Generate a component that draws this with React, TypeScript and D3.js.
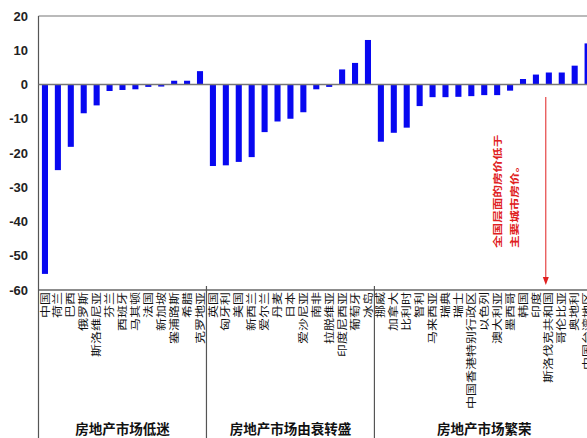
import React from "react";
import * as d3 from "d3";

const groupLow = ["中国", "荷兰", "巴西", "俄罗斯", "斯洛维尼亚", "芬兰", "西班牙", "马其顿", "法国", "新加坡", "塞浦路斯", "希腊", "克罗地亚"];
const valuesLow = [-55.3, -25.0, -18.2, -8.4, -6.1, -1.9, -1.6, -1.4, -0.7, -0.6, 1.1, 1.1, 3.9];

const groupTurn = ["英国", "匈牙利", "美国", "新西兰", "爱尔兰", "丹麦", "日本", "爱沙尼亚", "南非", "拉脱维亚", "印度尼西亚", "葡萄牙", "冰岛"];
const valuesTurn = [-23.8, -23.6, -22.6, -21.2, -13.9, -10.8, -10.0, -8.1, -1.4, -0.7, 4.4, 6.3, 13.0];

const groupBoom = ["挪威", "加拿大", "比利时", "智利", "马来西亚", "瑞典", "瑞士", "中国香港特别行政区", "以色列", "澳大利亚", "墨西哥", "韩国", "印度", "斯洛伐克共和国", "哥伦比亚", "奥地利", "中国台湾地区"];
const valuesBoom = [-16.7, -14.1, -12.6, -6.3, -3.7, -3.7, -3.6, -3.4, -3.1, -3.1, -1.8, 1.6, 2.9, 3.5, 3.5, 5.5, 12.0];

const groupNames = ["房地产市场低迷", "房地产市场由衰转盛", "房地产市场繁荣"];
const yTicks = [20, 10, 0, -10, -20, -30, -40, -50, -60];
const noteLines = ["全国层面的房价低于", "主要城市房价。"];

const W = 587;
const H = 438;
const left = 38.5;
const top = 16;
const bottom = 290;
const step = 12.92;

export default function App() {
  const groups = [groupLow, groupTurn, groupBoom];
  const categories = [...groupLow, ...groupTurn, ...groupBoom];
  const values = [...valuesLow, ...valuesTurn, ...valuesBoom];
  const n = categories.length;
  const right = left + n * step;

  const x = d3.scaleBand<string>().domain(categories).range([left, right]).paddingInner(0.53).paddingOuter(0.265);
  const y = d3.scaleLinear().domain([-60, 20]).range([bottom, top]);

  // group boundaries
  const bounds: number[] = [left];
  let idx = 0;
  groups.forEach((g) => {
    idx += g.length;
    bounds.push(left + idx * x.step());
  });

  const arrowX = x("斯洛伐克共和国")!;
  const sq = 0.77;

  return (
    <svg width={W} height={H} style={{ position: "absolute", left: 0, top: 0, background: "#fff" }}>
      {/* top border */}
      <line x1={left} x2={W} y1={top} y2={top} stroke="#777" strokeWidth={1.2} />
      {/* bottom axis */}
      <line x1={left} x2={W} y1={bottom} y2={bottom} stroke="#666" strokeWidth={1.5} />
      {/* left axis extended */}
      <line x1={left} x2={left} y1={top} y2={H} stroke="#555" strokeWidth={1.2} />
      {/* dividers */}
      {bounds.slice(1, 3).map((b, i) => (
        <line key={i} x1={b} x2={b} y1={bottom - 4} y2={H} stroke="#555" strokeWidth={1.2} />
      ))}
      {/* y tick labels */}
      {yTicks.map((t) => (
        <text key={t} x={28} y={y(t)} dy="0.35em" textAnchor="end" fontFamily="Liberation Sans, Arial, sans-serif" fontWeight="bold" fontSize={13} fill="#222">
          {t}
        </text>
      ))}
      {/* bars */}
      {categories.map((c, i) => (
        <rect key={c} x={x(c)} width={x.bandwidth()} y={y(Math.max(0, values[i]))} height={Math.abs(y(values[i]) - y(0))} fill="#0808f0" />
      ))}
      {/* zero line */}
      <line x1={left} x2={W} y1={y(0)} y2={y(0)} stroke="#777" strokeWidth={1.5} />
      {/* category labels */}
      {categories.map((c) => (
        <text
          key={"l" + c}
          transform={`translate(${x(c)! + x.bandwidth() / 2},${bottom + 2}) scale(${sq},1) rotate(-90)`}
          dy="0.36em"
          textAnchor="end"
          fontFamily="Noto Sans CJK SC, sans-serif"
          fontSize={13}
          fill="#111"
        >
          {c}
        </text>
      ))}
      {/* group labels */}
      {groupNames.map((g, i) => (
        <text key={g} x={(bounds[i] + Math.min(bounds[i + 1], 594)) / 2} y={434} textAnchor="middle" fontFamily="Noto Sans CJK SC, sans-serif" fontWeight="bold" fontSize={13.5} fill="#111">
          {g}
        </text>
      ))}
      {/* annotation */}
      {noteLines.map((t, i) => (
        <text
          key={t}
          transform={`translate(${498 + i * 17},248) scale(0.75,1) rotate(-90)`}
          dy="0.36em"
          textAnchor="start"
          fontFamily="Noto Sans CJK SC, sans-serif"
          fontWeight="bold"
          fontSize={12.6}
          fill="#e02020"
        >
          {t}
        </text>
      ))}
      <line x1={arrowX} x2={arrowX} y1={97} y2={278} stroke="#e02020" strokeWidth={1} />
      <path d={`M${arrowX - 3},${277} L${arrowX + 3},${277} L${arrowX},${285} Z`} fill="#e02020" />
    </svg>
  );
}
